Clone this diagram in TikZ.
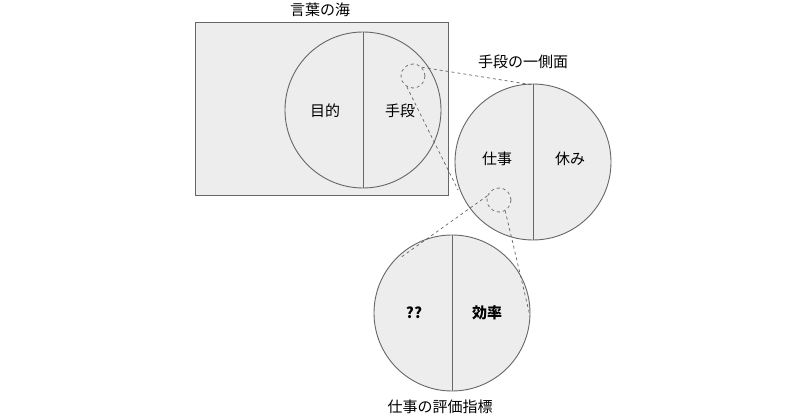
\documentclass[tikz,border=0pt]{standalone}
\usepackage{fontspec}
\setmainfont{Noto Sans CJK JP}
\begin{document}
\begin{tikzpicture}[x=1pt,y=-1pt,
  big/.style={circle,draw=black!60,fill=black!7,line width=0.9pt,minimum size=156pt,inner sep=0pt},
  zoomc/.style={circle,draw=black!55,dashed,line width=0.8pt,minimum size=24pt,inner sep=0pt},
  dl/.style={draw=black!60,dashed,line width=0.7pt},
  lab/.style={font=\fontsize{15pt}{17pt}\selectfont}]
\useasboundingbox (0,0) rectangle (800,419);
\node[draw=black!60,fill=black!7,line width=0.9pt,minimum width=253pt,minimum height=173pt,inner sep=0pt] (sea) at (321.5,108.5) {};
\node[lab] (t1) at (320,10) {言葉の海};
\node[big] (c1) at (363,110) {};
\draw[black!60,line width=0.9pt] (c1.north) -- (c1.south);
\node[lab] (a1) at (325,111) {目的};
\node[lab] (b1) at (400,111) {手段};
\node[zoomc] (z1) at (413,76) {};
\node[lab] (t2) at (523,62) {手段の一側面};
\node[big] (c2) at (533,162) {};
\draw[black!60,line width=0.9pt] (c2.north) -- (c2.south);
\node[lab] (a2) at (497,159) {仕事};
\node[lab] (b2) at (570,159) {休み};
\node[zoomc] (z2) at (499,200) {};
\node[big] (c3) at (452,313) {};
\draw[black!60,line width=0.9pt] (c3.north) -- (c3.south);
\node[lab,font=\bfseries\fontsize{15pt}{17pt}\selectfont] (a3) at (414,313) {??};
\node[lab,font=\bfseries\fontsize{15pt}{17pt}\selectfont] (b3) at (487,313) {効率};
\node[lab] (t3) at (440,407) {仕事の評価指標};
\coordinate (p1) at (533,85);
\coordinate (p2) at (458,190);
\coordinate (p3) at (400,258);
\coordinate (p4) at (530,316);
\draw[dl] (z1.45) -- (p1);
\draw[dl] (z1.240) -- (p2);
\draw[dl] (z2.160) -- (p3);
\draw[dl] (z2.300) -- (p4);
\end{tikzpicture}
\end{document}
